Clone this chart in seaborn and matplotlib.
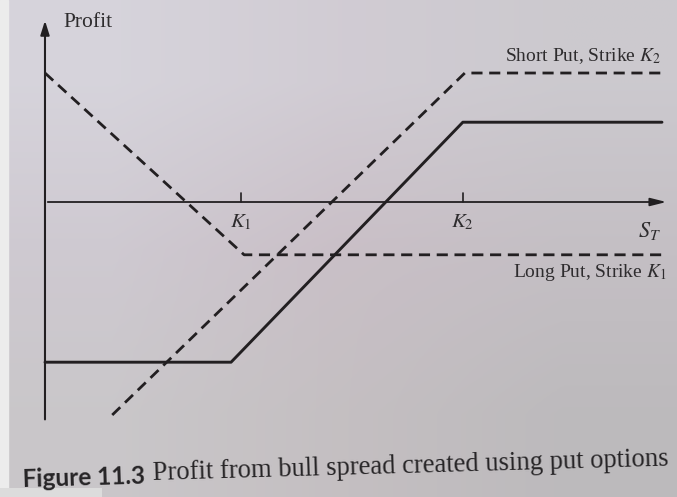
import numpy as np
import pandas as pd
import matplotlib
matplotlib.use("Agg")
import matplotlib.pyplot as plt
import seaborn as sns

sns.set_theme(style="white")
plt.rcParams["font.family"] = ["Liberation Serif", "DejaVu Serif"]
plt.rcParams["mathtext.fontset"] = "stix"

# Strike prices on the S_T axis
K1, K2 = 30.0, 64.0

# Profit profiles (vertices: stock price S_T, profit)
long_put_s = [0.0, 30.5, 95.0]
long_put_p = [21.5, -8.8, -8.8]

short_put_s = [10.3, 64.3, 94.5]
short_put_p = [-35.5, 21.5, 21.5]

spread_s = [0.0, 28.5, 64.0, 94.5]
spread_p = [-26.7, -26.7, 13.3, 13.3]

series_names = ["Long Put, Strike $K_1$", "Short Put, Strike $K_2$", "Bull spread"]

df = pd.concat([
    pd.DataFrame({"S": long_put_s, "P": long_put_p, "series": series_names[0]}),
    pd.DataFrame({"S": short_put_s, "P": short_put_p, "series": series_names[1]}),
    pd.DataFrame({"S": spread_s, "P": spread_p, "series": series_names[2]}),
], ignore_index=True)

ink = "#221f21"
fig = plt.figure(figsize=(6.77, 4.97), dpi=100)
ax = fig.add_axes([0, 0, 1, 1])
xlim = (-6.89, 96.8)
ylim = (-49.17, 33.67)

# paper tone
bg = np.array([
    [[0.84, 0.83, 0.86], [0.82, 0.80, 0.83], [0.80, 0.79, 0.81]],
    [[0.81, 0.79, 0.82], [0.79, 0.75, 0.78], [0.77, 0.75, 0.77]],
    [[0.79, 0.78, 0.79], [0.77, 0.75, 0.76], [0.74, 0.73, 0.74]],
])
ax.imshow(bg, extent=(xlim[0], xlim[1], ylim[0], ylim[1]), aspect="auto",
          interpolation="bilinear", zorder=0)
ax.axvspan(xlim[0], xlim[0] + 1.2, color="#ececec", zorder=0.5)
fig.patches.append(plt.Rectangle((0, 0), 0.15, 0.018, transform=fig.transFigure,
                                 facecolor="#dcdcdc", edgecolor="none", zorder=1))

for name in series_names[:2]:
    sns.lineplot(data=df[df.series == name], x="S", y="P", sort=False, estimator=None,
                 color=ink, lw=2.0, ax=ax, zorder=3)
    ax.lines[-1].set_dashes((4.0, 2.4))
sns.lineplot(data=df[df.series == series_names[2]], x="S", y="P", sort=False,
             estimator=None, color=ink, lw=2.1, ax=ax, zorder=3)

# axes with arrows
ax.annotate("", xy=(0, 30.7), xytext=(0, -36.7),
            arrowprops=dict(arrowstyle="-|>,head_length=0.7,head_width=0.22", color=ink, lw=1.5))
ax.annotate("", xy=(95.6, 0), xytext=(0, 0),
            arrowprops=dict(arrowstyle="-|>,head_length=0.8,head_width=0.2", color=ink, lw=1.3))
for k in (K1, K2):
    ax.plot([k, k], [0, 1.5], color=ink, lw=1.2, zorder=3)

tc = "#2e2c2e"
ax.text(2.8, 30.0, "Profit", fontsize=15.5, color=tc, va="center", ha="left")
ax.text(K1, -3.4, "$K_1$", fontsize=15, color=tc, ha="center", va="center")
ax.text(K2, -3.4, "$K_2$", fontsize=15, color=tc, ha="center", va="center")
ax.text(92.6, -4.9, "$S_T$", fontsize=16, color=tc, ha="center", va="center")
ax.text(94.3, 24.3, series_names[1], fontsize=14, color=tc, ha="right", va="center")
ax.text(95.2, -11.7, series_names[0], fontsize=14, color=tc, ha="right", va="center")

# caption
fig.text(0.033, 0.021, "Figure 11.3", fontsize=17.5, fontweight="bold", family="Lato",
         color="#262426", rotation=1.6, ha="left", va="baseline")
fig.text(0.225, 0.034, "Profit from bull spread created using put options", fontsize=19.2,
         color="#262426", rotation=1.6, ha="left", va="baseline")

ax.set_xlim(*xlim)
ax.set_ylim(*ylim)
ax.axis("off")
fig.savefig("out.png", dpi=100)
